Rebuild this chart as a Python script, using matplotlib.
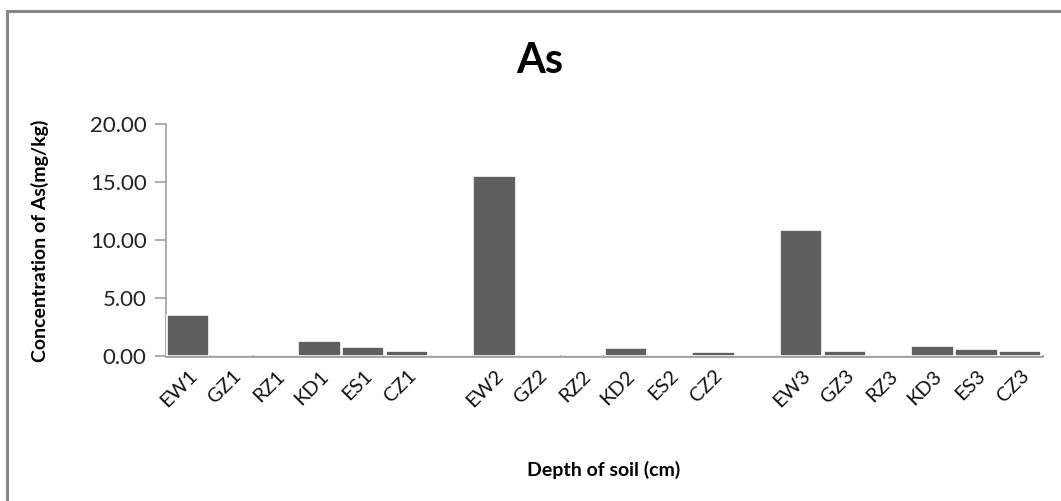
import matplotlib.pyplot as plt
import numpy as np

plt.rcParams['font.family'] = ['Lato', 'DejaVu Sans']

# sample labels, blank slots separate the three depth groups
labels = ['EW1', 'GZ1', 'RZ1', 'KD1', 'ES1', 'CZ1', '',
          'EW2', 'GZ2', 'RZ2', 'KD2', 'ES2', 'CZ2', '',
          'EW3', 'GZ3', 'RZ3', 'KD3', 'ES3', 'CZ3']
as_conc = [3.50, 0.00, 0.00, 1.30, 0.75, 0.42, np.nan,
           15.50, 0.02, 0.00, 0.66, 0.00, 0.36, np.nan,
           10.85, 0.45, 0.00, 0.85, 0.60, 0.40]
y_ticks = [0, 5, 10, 15, 20]

fig = plt.figure(figsize=(10.61, 5.01), dpi=100)
ax = fig.add_axes([0.1565, 0.2894, 0.8256, 0.464])

x = np.arange(len(labels))
vals = np.nan_to_num(np.array(as_conc, dtype=float))
ax.bar(x, vals, width=0.97, color='#5f5f5f', edgecolor='white', linewidth=1.2, zorder=3)

ax.set_xlim(-0.5, len(labels) - 0.5)
ax.set_ylim(0, 20)
ax.set_yticks(y_ticks)
ax.set_yticklabels([f"{v:.2f}" for v in y_ticks], fontsize=16, color='#222222')
ax.set_xticks(x)
ax.set_xticklabels(labels, rotation=45, ha='right', rotation_mode='anchor',
                   fontsize=14.5, color='#111111')
ax.tick_params(axis='x', length=0, pad=8)
ax.tick_params(axis='y', length=8, width=1.2, color='#a0a0a0', pad=6, direction='out')

for s in ['top', 'right']:
    ax.spines[s].set_visible(False)
ax.spines['left'].set_color('#a0a0a0')
ax.spines['left'].set_linewidth(1.2)
ax.spines['bottom'].set_color('#a0a0a0')
ax.spines['bottom'].set_linewidth(2)

fig.text(0.509, 0.878, 'As', fontsize=30, fontweight='bold', ha='center', va='center')
fig.text(0.569, 0.062, 'Depth of soil (cm)', fontsize=14, fontweight='bold', ha='center', va='center')
fig.text(0.038, 0.52, 'Concentration of As(mg/kg)', fontsize=14, fontweight='bold',
         rotation=90, ha='center', va='center')

# frame (top and left edge only, as cropped)
fig.add_artist(plt.Line2D([7 / 1061, 7 / 1061], [0, 1 - 11 / 501], color='#888888', lw=2.2))
fig.add_artist(plt.Line2D([7 / 1061, 1], [1 - 11 / 501, 1 - 11 / 501], color='#888888', lw=2.2))

plt.savefig('out.png', dpi=100)
